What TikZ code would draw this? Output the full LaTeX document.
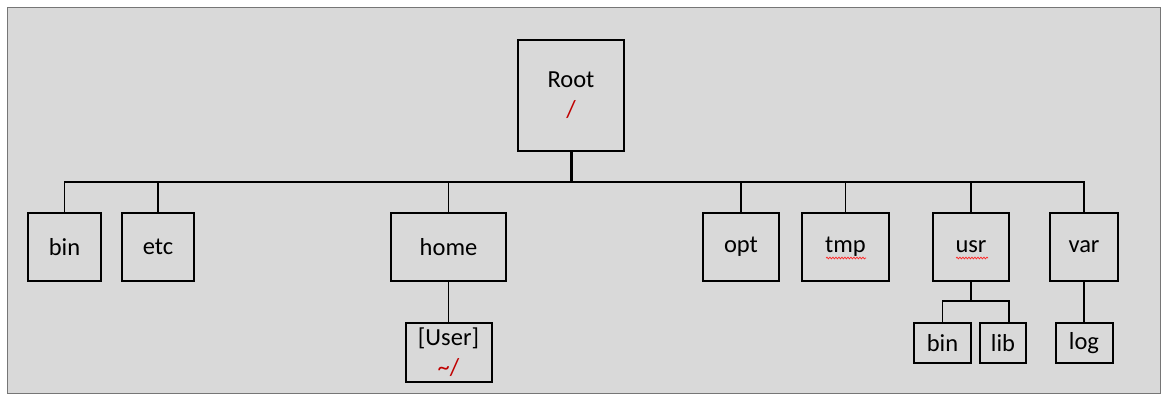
\documentclass[tikz,border=0pt]{standalone}
\usepackage{fontspec}
\setmainfont{Carlito}
\usetikzlibrary{decorations.pathmorphing}
\definecolor{bg}{HTML}{D9D9D9}
\definecolor{frame}{HTML}{767676}
\definecolor{redtxt}{HTML}{C00000}
\tikzset{
  dirbox/.style={draw=black, line width=2pt, fill=bg, inner sep=0pt, align=center,
    font=\fontsize{24.5}{30}\selectfont},
  link/.style={draw=black, line width=1.8pt},
  squig/.style={draw=red!85!white, line width=0.7pt, decorate,
    decoration={snake, amplitude=0.9pt, segment length=3pt}}
}
\begin{document}
\begin{tikzpicture}[x=1pt, y=-1pt]
\useasboundingbox (0,0) rectangle (1170,402);
\fill[white] (0,0) rectangle (1170,402);
\draw[frame, fill=bg, line width=1.5pt] (7.5,7.5) rectangle (1160.5,393.5);

\node[dirbox, minimum width=106pt, minimum height=111pt] (root) at (571,95.5) {Root\\\textcolor{redtxt}{/}};
\node[dirbox, minimum width=73pt, minimum height=68pt] (bin) at (64.5,247) {bin};
\node[dirbox, minimum width=72pt, minimum height=68pt] (etc) at (158,247) {etc};
\node[dirbox, minimum width=115pt, minimum height=68pt] (home) at (448.5,247) {home};
\node[dirbox, minimum width=76pt, minimum height=68pt] (opt) at (741,247) {opt};
\node[dirbox, minimum width=87pt, minimum height=68pt] (tmp) at (845.5,247) {tmp};
\node[dirbox, minimum width=76pt, minimum height=68pt] (usr) at (971,247) {usr};
\node[dirbox, minimum width=68pt, minimum height=68pt] (var) at (1084,247) {var};
\node[dirbox, minimum width=86pt, minimum height=59pt] (user) at (448.5,352.5) {[User]\\\textcolor{redtxt}{\textasciitilde/}};
\node[dirbox, minimum width=57pt, minimum height=40pt] (ubin) at (942.5,343) {bin};
\node[dirbox, minimum width=46pt, minimum height=40pt] (ulib) at (1003,343) {lib};
\node[dirbox, minimum width=57pt, minimum height=40pt] (log) at (1084,343) {log};

\coordinate (bus) at (571,182);
\coordinate (usrj) at (971,301);

% main bus
\draw[link, line cap=rect] (bin.north) |- (bus) -| (var.north);
\draw[link, line width=3pt] (root.south) -- (root.south |- bus);
\draw[link] (etc.north) -- (etc.north |- bus);
\draw[link] (home.north) -- (home.north |- bus);
\draw[link] (opt.north) -- (opt.north |- bus);
\draw[link] (tmp.north) -- (tmp.north |- bus);
\draw[link] (usr.north) -- (usr.north |- bus);
% children
\draw[link] (home.south) -- (user.north);
\draw[link] (var.south) -- (log.north);
\draw[link] (usr.south) -- (usrj);
\draw[link] (ubin.north) |- (usrj) -| ([xshift=6pt]ulib.north);

% spell-check squiggles
\draw[squig] (826,258) -- (866,258);
\draw[squig] (956,258) -- (988,258);
\end{tikzpicture}
\end{document}
